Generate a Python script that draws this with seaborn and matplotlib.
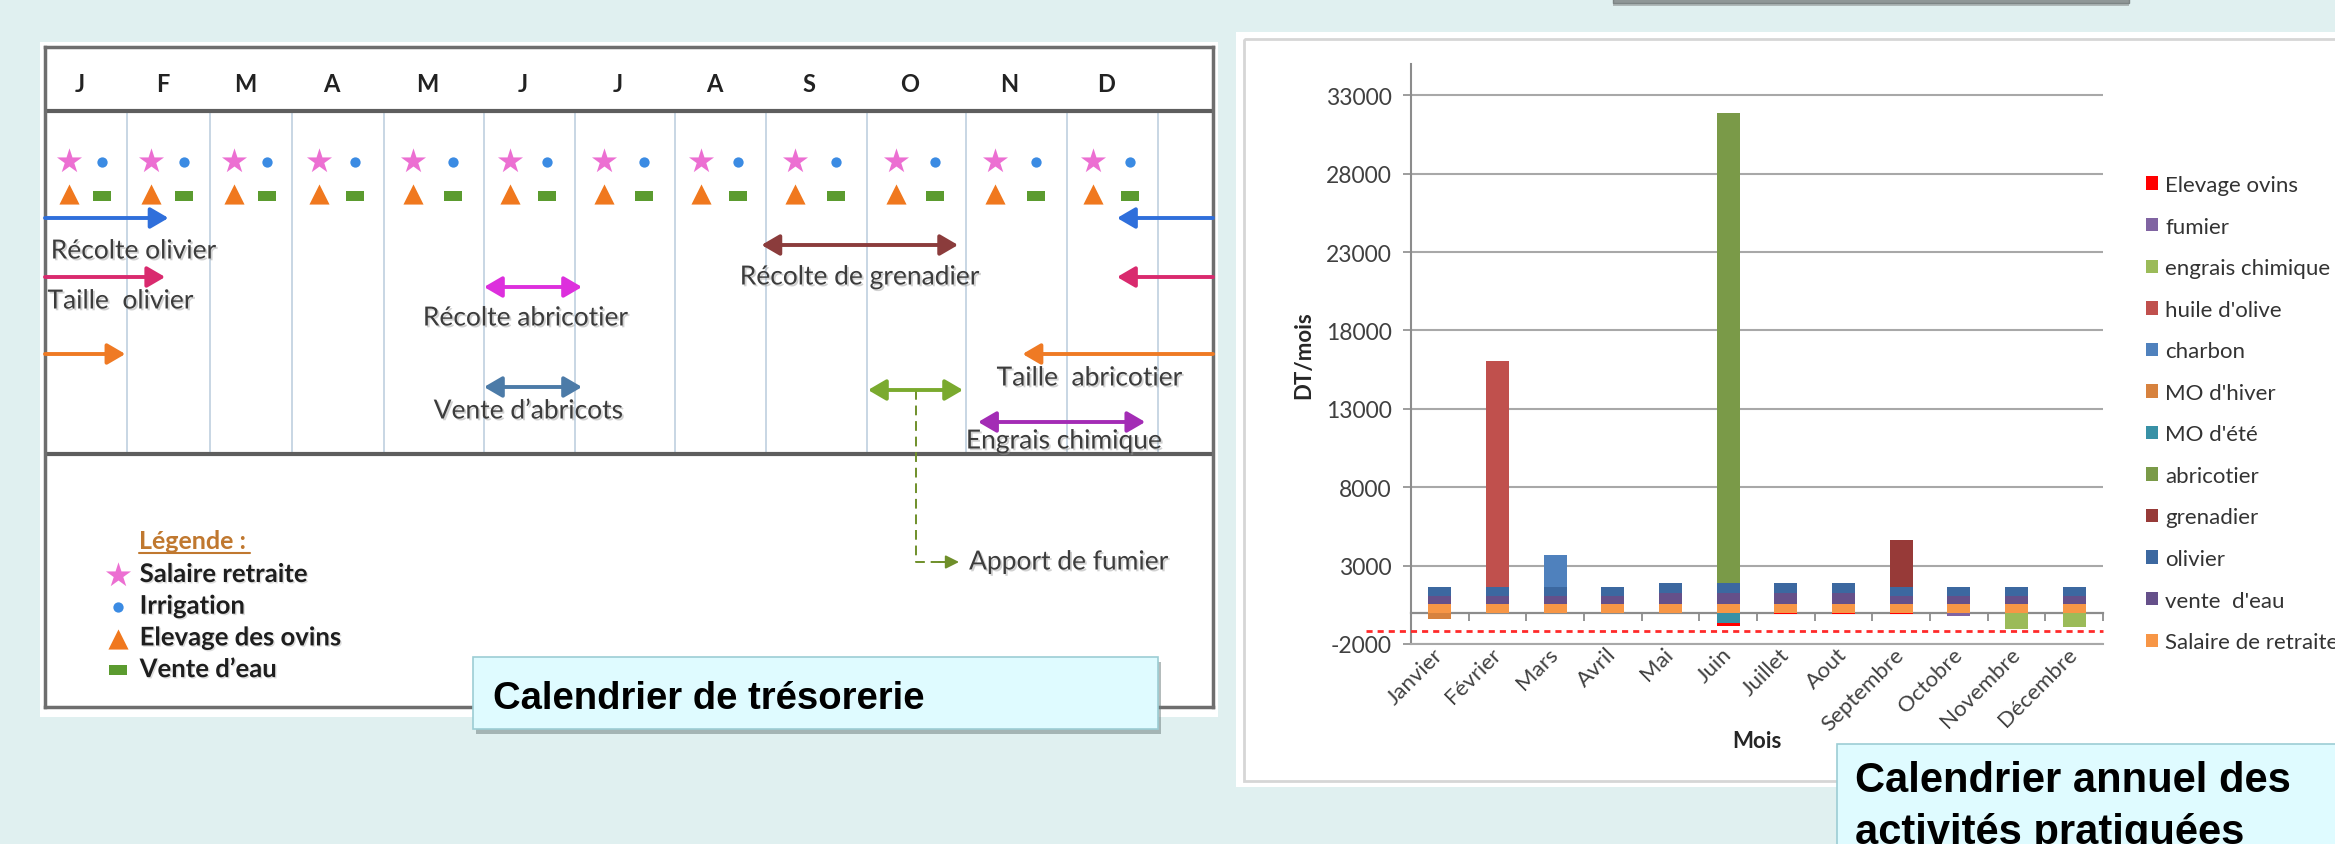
import numpy as np
import pandas as pd
import matplotlib
matplotlib.use("Agg")
import matplotlib.pyplot as plt
import seaborn as sns
from matplotlib import patheffects as pe
from matplotlib.patches import Rectangle, Patch
from matplotlib.path import Path

# ===================== DATA : Calendrier annuel des activités (DT/mois) =====================
mois = ["Janvier", "Février", "Mars", "Avril", "Mai", "Juin", "Juillet",
        "Aout", "Septembre", "Octobre", "Novembre", "Décembre"]
salaire_de_retraite = [550, 550, 550, 550, 550, 550, 550, 550, 550, 550, 550, 550]
vente_d_eau = [510, 510, 510, 510, 680, 680, 680, 680, 510, 510, 510, 510]
olivier = [600, 600, 600, 600, 640, 640, 640, 640, 600, 600, 600, 600]
grenadier = [0, 0, 0, 0, 0, 0, 0, 0, 2980, 0, 0, 0]
abricotier = [0, 0, 0, 0, 0, 29980, 0, 0, 0, 0, 0, 0]
mo_ete = [0, 0, 0, 0, 0, -680, 0, 0, 0, 0, 0, 0]
mo_hiver = [-430, 0, 0, 0, 0, 0, 0, 0, 0, 0, 0, 0]
charbon = [0, 0, 2000, 0, 0, 0, 0, 0, 0, 0, 0, 0]
huile_d_olive = [0, 14400, 0, 0, 0, 0, 0, 0, 0, 0, 0, 0]
engrais_chimique = [0, 0, 0, 0, 0, 0, 0, 0, 0, 0, -1020, -900]
fumier = [0, 0, 0, 0, 0, 0, 0, 0, 0, -200, 0, 0]
elevage_ovins = [0, 0, 0, 0, 0, -170, -70, -70, -70, 0, 0, 0]
seuil = -1200
graduations_y = [-2000, 3000, 8000, 13000, 18000, 23000, 28000, 33000]

# ===================== DATA : Calendrier de trésorerie =====================
lettres_mois = ["J", "F", "M", "A", "M", "J", "J", "A", "S", "O", "N", "D"]
mois_salaire_retraite = [0, 1, 2, 3, 4, 5, 6, 7, 8, 9, 10, 11]
mois_irrigation = [0, 1, 2, 3, 4, 5, 6, 7, 8, 9, 10, 11]
mois_elevage_ovins = [0, 1, 2, 3, 4, 5, 6, 7, 8, 9, 10, 11]
mois_vente_eau = [0, 1, 2, 3, 4, 5, 6, 7, 8, 9, 10, 11]
activites = ["Récolte olivier", "Taille  olivier", "Taille  abricotier",
             "Récolte de grenadier", "Récolte abricotier", "Vente d’abricots",
             "Apport de fumier", "Engrais chimique"]
debut_activite = [11.55, 11.55, 10.56, 7.95, 5.00, 5.00, 9.01, 10.12]
fin_activite = [1.50, 1.46, 0.98, 9.92, 6.07, 6.07, 9.97, 11.86]

# ===================== STYLE / LAYOUT =====================
W, H = 2335, 845
BG = "#E0F0F0"
ordre_series = [
    ("Salaire de retraite", salaire_de_retraite, "#F79646"),
    ("vente  d'eau", vente_d_eau, "#65508A"),
    ("olivier", olivier, "#3C68A0"),
    ("grenadier", grenadier, "#973A38"),
    ("abricotier", abricotier, "#7A9A48"),
    ("MO d'été", mo_ete, "#3891A6"),
    ("MO d'hiver", mo_hiver, "#D7823E"),
    ("charbon", charbon, "#4F81BD"),
    ("huile d'olive", huile_d_olive, "#C0504D"),
    ("engrais chimique", engrais_chimique, "#9BBB59"),
    ("fumier", fumier, "#8064A2"),
    ("Elevage ovins", elevage_ovins, "#FF0000"),
]

sns.set_style("white")
plt.rcParams["font.family"] = ["Lato", "DejaVu Sans"]

fig = plt.figure(figsize=(W / 100, H / 100), dpi=100, facecolor=BG)

def fbox(x0, y0, x1, y1):
    return [x0 / W, 1 - y1 / H, (x1 - x0) / W, (y1 - y0) / H]

# ---------- background layer (pixel coordinates) ----------
ax_bg = fig.add_axes([0, 0, 1, 1], zorder=0)
ax_bg.set_xlim(0, W); ax_bg.set_ylim(H, 0); ax_bg.axis("off")
ax_bg.add_patch(Rectangle((40, 43), 1178, 675, fc="white", ec="none"))
ax_bg.add_patch(Rectangle((1236, 33), 1110, 755, fc="white", ec="none"))
ax_bg.add_patch(Rectangle((1244, 40), 1100, 742, fill=False, ec="#D6D6D6", lw=2))
ax_bg.add_patch(Rectangle((1613, -40), 516, 44, fc="#8F9797", ec="#7D8585", lw=1,
                          path_effects=[pe.withSimplePatchShadow(offset=(0, -2.5),
                                                                 shadow_rgbFace="#555", alpha=0.35)]))
# Legend title of the calendar
ax_bg.text(139, 549, "Légende :", fontsize=18, fontweight="bold", color="#C0782F",
           va="baseline", ha="left", family=["Lato", "DejaVu Sans"])
ax_bg.plot([139, 250], [554, 554], color="#C0782F", lw=1.5)

# ===================== LEFT: Calendrier de trésorerie =====================
bords_m = np.array([0, 1, 2, 3, 4, 5, 6, 7, 8, 9, 10, 11, 12, 12.6])
bords_px = np.array([45, 127, 210, 292, 384, 484, 575, 675, 766, 867, 966, 1067, 1158, 1213], float)

def _fwd(m):
    m = np.asarray(m, float)
    out = np.interp(m, bords_m, bords_px)
    out = np.where(m < bords_m[0], bords_px[0] + (m - bords_m[0]) * 82.0, out)
    out = np.where(m > bords_m[-1], bords_px[-1] + (m - bords_m[-1]) * 91.0, out)
    return out

def _inv(p):
    p = np.asarray(p, float)
    out = np.interp(p, bords_px, bords_m)
    out = np.where(p < bords_px[0], bords_m[0] + (p - bords_px[0]) / 82.0, out)
    out = np.where(p > bords_px[-1], bords_m[-1] + (p - bords_px[-1]) / 91.0, out)
    return out

ax_cal = fig.add_axes(fbox(45, 48, 1213, 708), zorder=1)
ax_cal.set_facecolor("none")
ax_cal.set_xscale("function", functions=(_fwd, _inv))

# column lines, header, separator
ax_cal.vlines(np.arange(1, 13), 112, 455, colors="#C4D3E2", lw=1.3, zorder=1)
ax_cal.axhline(112, color="#5E5E5E", lw=3, zorder=2)
ax_cal.axhline(455, color="#5E5E5E", lw=3, zorder=2)
for i, lettre in enumerate(lettres_mois):
    ax_cal.text(i + 0.43, 85, lettre, ha="center", va="center", fontsize=17,
                fontweight="bold", color="#222222")

rect_marker = Path([(-1, -0.55), (1, -0.55), (1, 0.55), (-1, 0.55), (-1, -0.55)], closed=True)
sns.scatterplot(x=np.array(mois_salaire_retraite) + 0.29, y=np.full(12, 162.0), marker="*",
                s=360, color="#EC6FD2", linewidth=0, ax=ax_cal, label="Salaire retraite",
                legend=False, zorder=3)
sns.scatterplot(x=np.array(mois_irrigation) + 0.69, y=np.full(12, 163.0), marker="o",
                s=55, color="#3B8BE3", linewidth=0, ax=ax_cal, label="Irrigation",
                legend=False, zorder=3)
sns.scatterplot(x=np.array(mois_elevage_ovins) + 0.29, y=np.full(12, 195.0), marker="^",
                s=210, color="#F0781E", linewidth=0, ax=ax_cal, label="Elevage des ovins",
                legend=False, zorder=3)
sns.scatterplot(x=np.array(mois_vente_eau) + 0.69, y=np.full(12, 197.0), marker=rect_marker,
                s=150, color="#5B9B2F", linewidth=0, ax=ax_cal, label="Vente d’eau",
                legend=False, zorder=3)

fleche_y = {"Récolte olivier": 219, "Taille  olivier": 278, "Taille  abricotier": 355,
            "Récolte de grenadier": 246, "Récolte abricotier": 288, "Vente d’abricots": 388,
            "Apport de fumier": 391, "Engrais chimique": 423}
fleche_c = {"Récolte olivier": "#2F6FDB", "Taille  olivier": "#D92A6E", "Taille  abricotier": "#EF7A24",
            "Récolte de grenadier": "#8B3C3C", "Récolte abricotier": "#DD2FDD",
            "Vente d’abricots": "#4C7BA8", "Apport de fumier": "#7AAA2E", "Engrais chimique": "#A32CB5"}
etiquette = {"Récolte olivier": (0.07, 252, "left"), "Taille  olivier": (0.03, 302, "left"),
             "Taille  abricotier": (11.25, 379, "center"), "Récolte de grenadier": (8.93, 278, "center"),
             "Récolte abricotier": (5.46, 319, "center"), "Vente d’abricots": (5.49, 412, "center"),
             "Apport de fumier": (10.03, 563, "left"), "Engrais chimique": (10.97, 442, "center")}
fin_bord = 12.6
ombre = [pe.withSimplePatchShadow(offset=(1.3, -1.3), shadow_rgbFace="#9A9A9A", alpha=0.45)]
one = "-|>,head_length=0.6,head_width=0.35"
two = "<|-|>,head_length=0.6,head_width=0.35"
for nom, d, f in zip(activites, debut_activite, fin_activite):
    y = fleche_y[nom]; c = fleche_c[nom]
    props = dict(color=c, lw=2.8, shrinkA=0, shrinkB=0, mutation_scale=18)
    if d < f:
        ax_cal.annotate("", xy=(f, y), xytext=(d, y), arrowprops=dict(arrowstyle=two, **props))
    else:
        ax_cal.annotate("", xy=(d, y), xytext=(fin_bord, y), arrowprops=dict(arrowstyle=one, **props))
        ax_cal.annotate("", xy=(f, y), xytext=(0, y), arrowprops=dict(arrowstyle=one, **props))
    lx, ly, ha = etiquette[nom]
    if nom == "Apport de fumier":
        cx = (d + f) / 2
        ax_cal.plot([cx, cx, lx - 0.1], [y, ly, ly], color="#6F8F2A", lw=1.4, ls=(0, (5, 3)))
        ax_cal.annotate("", xy=(lx - 0.1, ly), xytext=(lx - 0.3, ly),
                        arrowprops=dict(arrowstyle="-|>,head_length=0.5,head_width=0.25",
                                        color="#6F8F2A", lw=1.4, shrinkA=0, shrinkB=0,
                                        mutation_scale=16))
    ax_cal.text(lx, ly, nom, ha=ha, va="center", fontsize=19, color="#3C3C3C",
                path_effects=ombre)

ax_cal.set_xlim(0, fin_bord)
ax_cal.set_ylim(708, 48)
ax_cal.set_xticks([]); ax_cal.set_yticks([])
ax_cal.set_xlabel(""); ax_cal.set_ylabel("")
for s in ax_cal.spines.values():
    s.set_color("#6E6E6E"); s.set_linewidth(2.5); s.set_visible(True)

h, l = ax_cal.get_legend_handles_labels()
leg1 = ax_cal.legend(h, l, loc="upper left", bbox_to_anchor=(106 / W, 1 - 563 / H),
                     bbox_transform=fig.transFigure, frameon=False, borderpad=0,
                     borderaxespad=0, handlelength=0.95, handletextpad=0.36,
                     labelspacing=0.3, scatterpoints=1,
                     prop=dict(family="Lato", weight="bold", size=18.5))
for t in leg1.get_texts():
    t.set_color("#1E1E1E")
    t.set_path_effects([pe.withSimplePatchShadow(offset=(1, -1), shadow_rgbFace="#AAAAAA", alpha=0.4)])

# ===================== RIGHT: stacked bars =====================
axb = fig.add_axes(fbox(1411, 65, 2103, 645), zorder=1)
axb.set_facecolor("none")
pos = np.zeros(len(mois)); neg = np.zeros(len(mois))
for nom, vals, col in ordre_series:
    v = np.asarray(vals, float)
    base = np.where(v >= 0, pos, neg)
    sns.barplot(x=mois, y=v, bottom=base, color=col, width=0.4, errorbar=None,
                saturation=1, linewidth=0, ax=axb, zorder=3)
    pos += np.where(v >= 0, v, 0)
    neg += np.where(v < 0, v, 0)

ymin, ymax = -2000, 35000
axb.set_ylim(ymin, ymax)
axb.set_xlim(-0.5, 11.5)
axb.set_yticks(graduations_y)
axb.set_yticklabels([str(t) for t in graduations_y])
axb.set_axisbelow(True)
axb.yaxis.grid(True, color="#A8A8A8", lw=1.5)
axb.xaxis.grid(False)
for side in ("top", "right"):
    axb.spines[side].set_visible(False)
axb.spines["left"].set_color("#8C8C8C"); axb.spines["left"].set_linewidth(1.5)
axb.spines["bottom"].set_color("#A8A8A8"); axb.spines["bottom"].set_linewidth(1.5)
axb.tick_params(axis="y", length=6, width=1.2, color="#8C8C8C", pad=8,
                labelsize=16.5, labelcolor="#404040", left=True)
axb.set_xticks(range(len(mois)))
axb.set_xticklabels(mois, rotation=45, ha="right", va="center", rotation_mode="anchor",
                    fontsize=16, color="#404040")
axb.tick_params(axis="x", length=0, pad=5, bottom=True)

# zero axis with category boundary ticks
frac0 = (0 - ymin) / (ymax - ymin)
sec = axb.secondary_xaxis(frac0)
sec.set_xticks(np.arange(-0.5, 12, 1.0))
sec.tick_params(axis="x", direction="out", length=6, width=1.3, color="#8C8C8C",
                labelbottom=False, labeltop=False)
for s in sec.spines.values():
    s.set_color("#8C8C8C"); s.set_linewidth(1.6)

axb.axhline(seuil, xmin=-0.065, xmax=1.0, color="#FF2A2A", lw=2.0,
            ls=(0, (2.2, 1.8)), clip_on=False, zorder=4)

axb.set_ylabel("DT/mois", fontsize=16, fontweight="bold", color="#262626")
axb.yaxis.set_label_coords(-0.1546, 0.5)
axb.yaxis.label.set_va("center")
axb.set_xlabel("Mois", fontsize=16, fontweight="bold", color="#262626")
axb.xaxis.set_label_coords(0.5, -0.167)
axb.xaxis.label.set_va("center")

handles = [Patch(facecolor=c, edgecolor="none", label=n) for n, _, c in reversed(ordre_series)]
axb.legend(handles=handles, loc="upper left", bbox_to_anchor=(2146 / W, 1 - 176 / H),
           bbox_transform=fig.transFigure, frameon=False, borderpad=0, borderaxespad=0,
           handlelength=0.55, handleheight=0.55, handletextpad=0.32, labelspacing=0.97,
           prop=dict(family="Lato", size=16), labelcolor="#333333")

# ===================== foreground: title boxes =====================
ax_fg = fig.add_axes([0, 0, 1, 1], zorder=10)
ax_fg.set_facecolor("none")
sh = [pe.withSimplePatchShadow(offset=(2, -3.5), shadow_rgbFace="#6A7A7A", alpha=0.5)]
ax_fg.add_patch(Rectangle((473, 658), 685, 72, fc="#DFFBFF", ec="#9CCDD4", lw=1.2, path_effects=sh))
ax_fg.text(493, 709, "Calendrier de trésorerie", fontsize=27.5, fontweight="bold",
           family=["Liberation Sans", "DejaVu Sans"], color="black", va="baseline", ha="left")
ax_fg.add_patch(Rectangle((1837, 745), 520, 140, fc="#DFFBFF", ec="#9CCDD4", lw=1.2, path_effects=sh))
ax_fg.text(1855, 792, "Calendrier annuel des", fontsize=30, fontweight="bold",
           family=["Liberation Sans", "DejaVu Sans"], color="black", va="baseline", ha="left")
ax_fg.text(1855, 844, "activités pratiquées", fontsize=30, fontweight="bold",
           family=["Liberation Sans", "DejaVu Sans"], color="black", va="baseline", ha="left")
ax_fg.set_xlim(0, W); ax_fg.set_ylim(H, 0); ax_fg.axis("off")

fig.savefig("out.png", dpi=100, facecolor=BG)
